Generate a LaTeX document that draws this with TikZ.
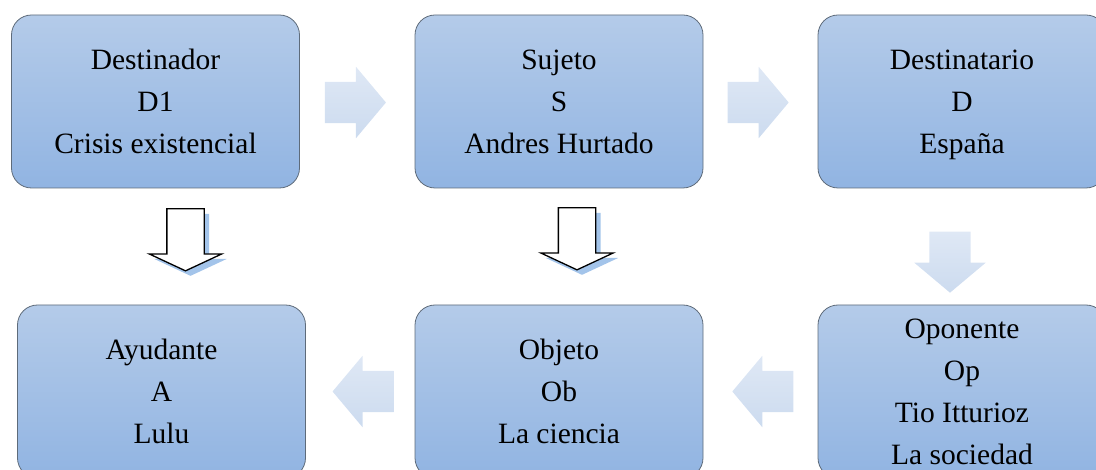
\documentclass[tikz,border=0pt]{standalone}
\usepackage{fontspec}
\setmainfont{Liberation Serif}
\usetikzlibrary{shapes.arrows,shadows,calc}

\definecolor{boxtop}{HTML}{B4CBE9}
\definecolor{boxbottom}{HTML}{91B4E2}
\definecolor{boxline}{HTML}{5E6B7A}
\definecolor{arrowlight}{HTML}{DFE8F5}
\definecolor{arrowdark}{HTML}{CCDBEF}
\definecolor{shadowblue}{HTML}{A3C4EA}

\begin{document}
\begin{tikzpicture}[
    x=1pt, y=-1pt,
    actor/.style = {
      shape=rectangle,
      rounded corners=20pt,
      draw=boxline,
      line width=0.8pt,
      align=center,
      inner sep=0pt,
      text depth=0pt,
      minimum width=288pt,
      minimum height=173pt,
      top color=boxtop,
      bottom color=boxbottom,
      font=\fontsize{29.5}{42}\selectfont
    },
    flow/.style = {
      single arrow,
      draw=none,
      inner xsep=0pt,
      inner ysep=20.5pt,
      minimum height=61pt,
      single arrow head extend=15pt,
      single arrow tip angle=100,
      top color=arrowlight,
      bottom color=arrowdark
    },
    flowdown/.style = {
      flow,
      inner xsep=20.5pt,
      inner ysep=0pt,
      shape border rotate=270
    },
    flowleft/.style = {
      flow,
      shape border rotate=180
    },
    hollow/.style = {
      single arrow,
      draw=black,
      line width=1.3pt,
      fill=white,
      inner xsep=18pt,
      inner ysep=0pt,
      minimum height=62pt,
      single arrow head extend=17.5pt,
      single arrow tip angle=130,
      shape border rotate=270,
      drop shadow={shadow xshift=5pt, shadow yshift=-5pt,
        fill=shadowblue, opacity=1, draw=none}
    }
  ]
  \useasboundingbox (0,0) rectangle (1096,470);

  % top row
  \node[actor] (destinador) at (155.5,101.5) {Destinador\\D1\\Crisis existencial};
  \node[actor] (sujeto) at (559,101.5) {Sujeto\\S\\Andres Hurtado};
  \node[actor] (destinatario) at (962,101.5) {Destinatario\\D\\España};

  % bottom row
  \node[actor] (ayudante) at (161.5,391.5) {Ayudante\\A\\Lulu};
  \node[actor] (objeto) at (559,391.5) {Objeto\\Ob\\La ciencia};
  \node[actor] (oponente) at (962,391.5) {Oponente\\Op\\Tio Itturioz\\La sociedad};

  % arrows
  \node[flow] (a1) at ($(destinador.east)!0.5!(sujeto.west)+(-10.5,1)$) {};
  \node[flow] (a2) at ($(sujeto.east)!0.5!(destinatario.west)+(-11,1)$) {};
  \node[flowdown] (a3) at ($(destinatario.south)!0.5!(oponente.north)+(-12,7)$) {};
  \node[flowleft] (a4) at ($(objeto.east)!0.5!(oponente.west)+(11,0)$) {};
  \node[flowleft] (a5) at ($(ayudante.east)!0.5!(objeto.west)+(11.5,0)$) {};
  \node[hollow] (d1) at ($(destinador.south)!0.5!(ayudante.north)+(27,-11)$) {};
  \node[hollow] (d2) at ($(sujeto.south)!0.5!(objeto.north)+(18,-12)$) {};

\end{tikzpicture}
\end{document}
